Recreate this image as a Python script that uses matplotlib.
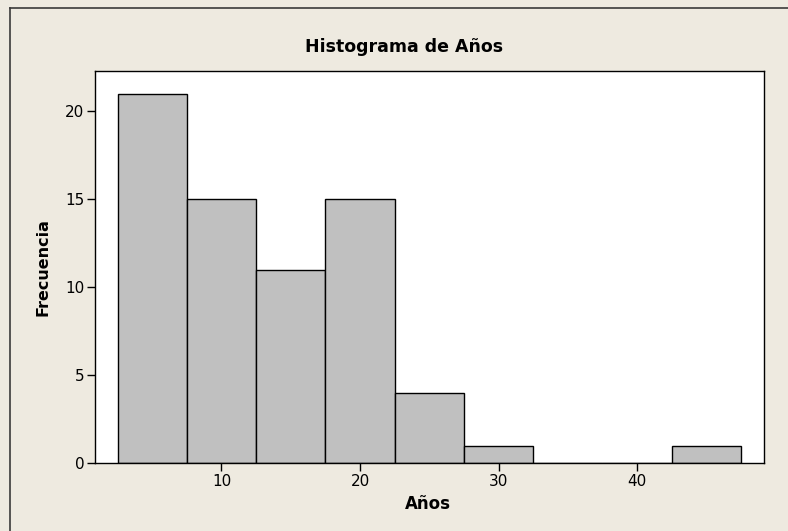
import matplotlib
matplotlib.use("Agg")
import matplotlib.pyplot as plt
from matplotlib.lines import Line2D

# Histogram of years: bin centres and counts (bin width 5)
bin_centers = [5, 10, 15, 20, 25, 30, 35, 40, 45]
counts = [21, 15, 11, 15, 4, 1, 0, 0, 1]
bin_width = 5
x_ticks = [10, 20, 30, 40]
y_ticks = [0, 5, 10, 15, 20]

title = "Histograma de Años"
x_label = "Años"
y_label = "Frecuencia"

W, H = 788, 531
bg = "#EEEAE0"
bar_color = "#C0C0C0"

fig = plt.figure(figsize=(W / 100, H / 100), dpi=100, facecolor=bg)

# outer frame: left and top edges of the graph region
frame_x = 10 / W
frame_y = 1 - 7.5 / H
fig.add_artist(Line2D([frame_x, frame_x], [0, frame_y], transform=fig.transFigure,
                      color="#3a3a3a", linewidth=1.2))
fig.add_artist(Line2D([frame_x, 1], [frame_y, frame_y], transform=fig.transFigure,
                      color="#3a3a3a", linewidth=1.2))

ax = fig.add_axes([95 / W, 1 - 463.3 / H, (764 - 95) / W, (463.3 - 71) / H])
ax.set_facecolor("white")

lefts = [c - bin_width / 2 for c in bin_centers]
ax.bar(lefts, counts, width=bin_width, align="edge", color=bar_color,
       edgecolor="black", linewidth=1.0, zorder=2)

ax.set_xlim(0.87, 49.16)
ax.set_ylim(0, 22.29)
ax.set_xticks(x_ticks)
ax.set_yticks(y_ticks)
ax.tick_params(direction="out", length=5.5, width=1, labelsize=11, pad=2,
               colors="black")
for s in ax.spines.values():
    s.set_linewidth(1.0)
    s.set_color("black")

fig.text(404 / W, 1 - 47 / H, title, ha="center", va="center",
         fontsize=12.5, fontweight="bold")
fig.text(428 / W, 1 - 504 / H, x_label, ha="center", va="center",
         fontsize=12, fontweight="bold")
fig.text(43 / W, 1 - 267 / H, y_label, ha="center", va="center",
         rotation=90, fontsize=11.5, fontweight="bold")

fig.savefig("out.png", dpi=100, facecolor=bg)
